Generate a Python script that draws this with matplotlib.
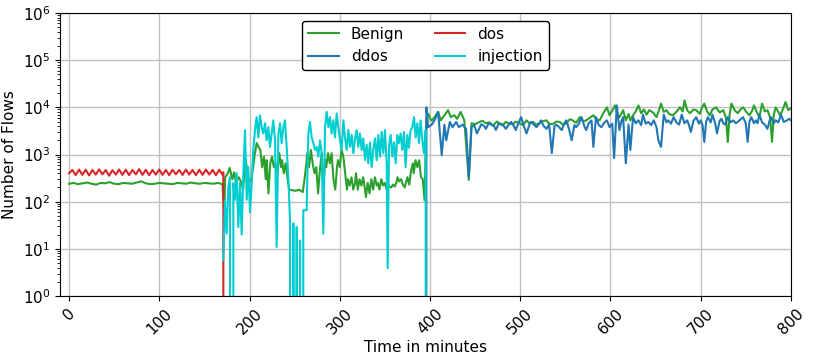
import numpy as np
import matplotlib
matplotlib.use('Agg')
import matplotlib.pyplot as plt

# === DATA (flows per minute) === #
# Benign: steady part, sampled every 5 minutes
benign_t0 = np.arange(0, 171, 5)
benign_v0 = [240, 250, 235, 245, 255, 240, 230, 250, 245, 260, 240, 235, 250, 245, 240, 255, 270, 245,
             235, 240, 250, 245, 240, 235, 250, 245, 240, 255, 245, 240, 250, 245, 240, 250, 235]

# Benign: noisy part
benign_t1 = [171, 172, 173, 176, 178, 181, 183, 185, 188, 190, 193, 195, 197, 199, 202, 204, 206, 208, 210, 212,
             214, 216, 218, 219, 221, 223, 225, 227, 229, 231, 233, 235, 236, 238, 240, 242, 244, 247, 251, 255,
             259, 261, 263, 264, 266, 268, 270, 272, 274, 276, 278, 280, 282, 284, 285, 287, 289, 291, 293, 295,
             297, 298, 300, 302, 304, 306, 308, 309, 311, 313, 315, 317, 318, 320, 322, 324, 326, 328, 329, 331,
             333, 335, 337, 339, 341, 342, 344, 346, 348, 350, 352, 353, 355, 357, 359, 361, 363, 364, 366, 368,
             370, 372, 375, 377, 379, 381, 382, 384, 386, 388, 390, 392, 394, 396, 398, 401,
             402, 405, 409, 412, 416, 420, 423, 427, 430, 434, 438, 443, 446, 450, 455, 458, 462, 466, 470, 474,
             477, 481, 484, 488, 492, 495, 499, 503, 507, 510, 514, 518, 521, 525, 529, 532, 536, 540, 544, 547,
             551, 555, 558, 562, 566, 570, 573, 577, 581, 584, 588, 592, 596, 599, 602, 605, 608, 610, 614, 617,
             620, 622, 625, 628, 631, 634, 637, 640, 643, 647, 651, 654, 656, 659, 662, 665, 669, 673, 677, 680,
             682, 685, 688, 692, 695, 699, 701, 704, 707, 710, 713, 717, 721, 725, 728, 730, 732, 734, 738, 741,
             744, 747, 751, 754, 757, 759, 762, 765, 768, 771, 774, 777, 779, 781, 783, 786, 788, 791, 794, 797, 800]
benign_v1 = [130, 50, 330, 400, 520, 300, 420, 250, 330, 280, 180, 900, 540, 250, 300, 540, 1070, 1750, 1450, 1250,
             540, 900, 300, 760, 150, 650, 900, 540, 650, 400, 1070, 540, 760, 400, 650, 330, 180, 175, 170, 180,
             160, 300, 650, 1070, 540, 1250, 650, 400, 540, 150, 470, 1070, 250, 760, 540, 1070, 650, 1070, 300, 180,
             540, 760, 540, 1250, 900, 400, 180, 300, 220, 330, 180, 250, 400, 180, 300, 220, 330, 180, 125, 250,
             150, 300, 180, 330, 220, 250, 180, 300, 220, 250, 180, 190, 210, 200, 230, 210, 260, 330, 270, 300,
             230, 200, 330, 230, 450, 650, 400, 760, 540, 760, 330, 300, 107, 5300, 7400, 5300,
             5300, 6200, 8000, 5300, 6800, 8700, 6200, 6800, 5700, 8000, 5300, 290, 4600, 4400, 4900, 5200, 4600, 4800, 4100, 5000,
             4600, 4300, 4900, 4500, 4400, 5000, 4600, 4200, 5300, 4600, 4900, 4300, 4600, 5100, 5300, 4500, 4400, 5000, 4900, 4300,
             4600, 5600, 5300, 4700, 6200, 5000, 5300, 6000, 6800, 5600, 5300, 7500, 10000, 6800, 8500, 11000, 7000, 6200, 8700, 5300,
             7200, 5300, 6800, 8200, 11000, 7500, 9000, 7000, 8700, 7800, 6200, 9000, 12000, 8000, 8700, 7200, 6800, 8000, 10000, 8200,
             14000, 8700, 7500, 9000, 8700, 7300, 9500, 12000, 8200, 6800, 9000, 10000, 7800, 8700, 6000, 1850, 7000, 12000, 8500, 7500,
             9000, 10000, 7800, 6800, 8500, 11000, 8000, 6200, 12000, 8200, 8700, 6000, 1850, 7000, 10000, 8000, 6800, 9000, 13000, 8700, 9500]

# dos: oscillating, then stops at ~172 min
dos_t0 = np.arange(0, 172, 3.7)
dos_v0 = [400, 470, 365, 480, 370, 475, 360, 470, 375, 485,
          380, 470, 355, 465, 375, 480, 370, 475, 365, 470,
          380, 490, 370, 475, 365, 470, 375, 480, 370, 470,
          365, 475, 380, 470, 370, 480, 375, 470, 365, 475,
          370, 480, 375, 470, 365, 475, 370]
dos_t1 = [171, 172]
dos_v1 = [420, 0]

# ddos
ddos_t = [394, 396, 398, 402, 405, 409, 413, 416, 418, 422, 425, 429, 432, 436, 440, 443, 446, 449, 452, 457,
          460, 462, 465, 468, 471, 473, 476, 479, 482, 484, 487, 490, 493, 495, 498, 501, 504, 507, 510, 512,
          515, 518, 521, 523, 526, 529, 532, 535, 538, 540, 543, 546, 549, 551, 554, 557, 560, 562, 565, 568,
          571, 573, 576, 579, 581, 584, 587, 590, 593, 596, 599, 602, 604, 607, 610, 612, 614, 617, 620, 622,
          625, 628, 631, 634, 636, 639, 642, 645, 648, 651, 653, 656, 659, 662, 664, 667, 670, 673, 676, 679,
          682, 685, 687, 689, 692, 695, 698, 700, 702, 704, 706, 708, 711, 713, 716, 718, 721, 723, 725, 727,
          730, 733, 736, 739, 741, 744, 747, 750, 752, 754, 756, 759, 761, 763, 765, 768, 771, 774, 776, 778,
          781, 783, 786, 789, 792, 795, 798, 800]
ddos_v = [0, 10000, 3800, 4300, 5300, 8000, 970, 4300, 2000, 4900, 3800, 4900, 3800, 4300, 3500, 330, 3800, 4200, 2800, 4400,
          4000, 3500, 4600, 4300, 4000, 3300, 4500, 4300, 4000, 3500, 4200, 4900, 4000, 3300, 4600, 6200, 4000, 2800, 4200, 4900,
          4300, 3800, 4500, 5300, 4000, 3500, 4300, 1070, 4000, 4300, 3800, 3300, 4600, 5300, 3500, 2000, 4200, 3800, 4500, 6200,
          4000, 3300, 4600, 5300, 1450, 6200, 4200, 3800, 4700, 5300, 3800, 4500, 840, 11000, 3300, 5000, 6200, 650, 4300, 1250,
          6200, 4600, 5300, 4200, 7000, 4500, 4900, 4200, 5300, 3800, 2000, 1450, 7000, 4800, 5300, 4500, 6200, 4800, 4300, 7000,
          4600, 5300, 4200, 3000, 5200, 6200, 4500, 5300, 4200, 1850, 5000, 6200, 4800, 7000, 4600, 2800, 5200, 5700, 4600, 4300,
          6200, 4800, 5300, 4600, 4900, 5500, 6200, 4500, 1850, 5000, 6200, 4600, 5300, 4600, 7000, 4800, 4300, 3500, 5000, 6200,
          4600, 5300, 4800, 7000, 4900, 5200, 5700, 5300]

# injection
inj_t = [171.0, 172.8, 174.7, 176.5, 178.4, 180.2, 182.1, 183.9, 185.8, 187.6, 189.5, 191.3, 193.2, 195.0, 196.9,
         198.7, 200.6, 202.4, 204.2, 206.1, 207.9, 209.8, 211.6, 213.5, 215.3, 217.2, 219.0, 220.9, 222.7, 224.6,
         226.4, 228.3, 230.1, 232.0, 233.8, 235.6, 237.5, 239.3, 241.2, 243.0, 244.9, 246.7, 248.6, 250.4, 252.3,
         254.1, 256.0, 257.8, 259.6,
         263.3, 265.2, 267.0, 268.9, 270.7, 272.6, 274.4, 276.3, 278.1, 280.0, 281.8, 283.7, 285.5, 287.4, 289.2,
         291.0, 292.9, 294.7, 296.6, 298.4, 300.3, 302.1, 304.0, 305.8, 307.7, 309.5, 311.4, 313.2, 315.1, 316.9,
         318.7, 320.6, 322.4, 324.3, 326.1, 328.0, 329.8, 331.7, 333.5, 335.4, 337.2, 339.1, 340.9, 342.7, 344.6,
         346.4, 348.3, 350.1, 352.0, 353.1, 354.6, 356.4, 358.3, 360.1, 362.0, 363.8, 365.6, 367.5, 369.3, 371.2,
         373.0, 374.9, 376.7, 378.6, 380.4, 382.3, 384.1, 386.0, 387.8, 389.6, 391.5, 393.3, 395.2, 395.9]
inj_v = [5.8, 107, 21, 200, 330, 0, 250, 110, 400, 29, 250, 20, 400, 3300, 110,
         540, 60, 250, 1250, 3300, 6200, 2300, 6800, 3800, 2800, 4600, 2000, 3800, 1450, 2800,
         5300, 2000, 11, 2800, 4600, 1750, 3800, 5300, 1450, 330, 40, 0, 35, 0, 29,
         0, 15, 0, 66,
         66, 2800, 4900, 2300, 1750, 1250, 1450, 900, 2000, 1070, 21, 3800, 8000, 3800, 6200,
         2800, 5300, 2300, 7400, 3800, 2000, 1250, 5300, 2300, 1250, 3300, 1450, 2600, 1070, 2200,
         3300, 1450, 2800, 1250, 2200, 760, 1600, 650, 1800, 540, 1300, 2200, 760, 2600, 900,
         3000, 1070, 3300, 650, 3.9, 1500, 2600, 900, 1800, 650, 2600, 1750, 2800, 1250, 3000,
         540, 2600, 1400, 3300, 3800, 6200, 2300, 4600, 1750, 5300, 2000, 1070, 3300, 0]

x_ticks = [0, 100, 200, 300, 400, 500, 600, 700, 800]

# === PLOT === #
benign_t = np.concatenate([benign_t0, benign_t1])
benign_v = np.concatenate([benign_v0, benign_v1])
dos_t = np.concatenate([dos_t0, dos_t1])
dos_v = np.concatenate([dos_v0, dos_v1])

fig = plt.figure(figsize=(8.14, 3.61), dpi=100)
ax = fig.add_axes([0.0737, 0.180, 0.898, 0.784])

ax.plot(benign_t, benign_v, color='#2ca02c', linewidth=1.5, label='Benign')
ax.plot(ddos_t, ddos_v, color='#1f77b4', linewidth=1.5, label='ddos')
ax.plot(dos_t, dos_v, color='#d62728', linewidth=1.5, label='dos')
ax.plot(inj_t, inj_v, color='#00ced1', linewidth=1.5, label='injection')

ax.set_yscale('log', nonpositive='clip')
ax.set_ylim(1, 1e6)
ax.set_xlim(-10, 800)
ax.set_xticks(x_ticks)
ax.tick_params(axis='x', labelrotation=45, labelsize=11)
ax.tick_params(axis='y', labelsize=11)
ax.grid(True, which='major', color='#c0c0c0', linewidth=1)
ax.set_xlabel('Time in minutes', fontsize=11, labelpad=2)
ax.set_ylabel('Number of Flows', fontsize=11)

leg = ax.legend(loc='upper center', ncol=2, fontsize=11, framealpha=1, edgecolor='black')

fig.savefig('out.png', dpi=100)
